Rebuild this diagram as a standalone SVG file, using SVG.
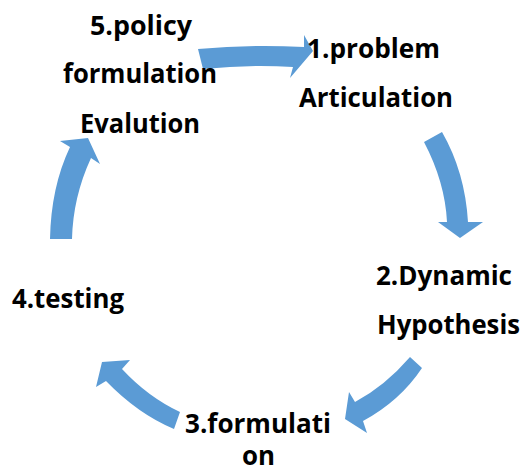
<svg xmlns="http://www.w3.org/2000/svg" width="528" height="470" viewBox="0 0 528 470">
<style>
.arr{fill:#5B9BD5;stroke:none}
.lbl{font-family:"Open Sans","Noto Sans","Liberation Sans",sans-serif;font-weight:bold;font-size:26px;fill:#000;text-anchor:middle}
</style>
<rect width="528" height="470" fill="#fff"/>
<g id="connectors">
<path class="arr" d="M198,49 Q250,44 304,47 L304,35 L313,51 L290,78 L293,67 Q250,64 203,69 Z"/>
<path class="arr" d="M424,142 L442,132 Q465,172 468,222 L483,222 L460,238 L438,222 L447,222 Q445,182 424,142 Z"/>
<path class="arr" d="M410,357 Q385,386 355,402 L349,392 L345,419 L367,433 L363,421 Q400,401 422,368 Z"/>
<path class="arr" d="M180,412 Q148,397 122,369 L130,360 L102,362 L96,387 L106,381 Q138,414 174,429 Z"/>
<path class="arr" d="M50,239 Q51,187 70,147 L60,141 L88,138 L100,164 L91,158 Q73,197 72,239 Z"/>
</g>
<g id="node5">
<text class="lbl" x="141" y="35" textLength="102" lengthAdjust="spacingAndGlyphs">5.policy</text>
<text class="lbl" x="140" y="83" textLength="154" lengthAdjust="spacingAndGlyphs">formulation</text>
<text class="lbl" x="140" y="133" textLength="120" lengthAdjust="spacingAndGlyphs">Evalution</text>
</g>
<g id="node1">
<text class="lbl" x="373.5" y="58" textLength="133" lengthAdjust="spacingAndGlyphs">1.problem</text>
<text class="lbl" x="376" y="107" textLength="154" lengthAdjust="spacingAndGlyphs">Articulation</text>
</g>
<g id="node2">
<text class="lbl" x="444" y="285" textLength="136" lengthAdjust="spacingAndGlyphs">2.Dynamic</text>
<text class="lbl" x="448.5" y="334" textLength="143" lengthAdjust="spacingAndGlyphs">Hypothesis</text>
</g>
<g id="node3">
<text class="lbl"><tspan x="258" y="433" textLength="146" lengthAdjust="spacingAndGlyphs">3.formulati</tspan><tspan x="258.5" y="465" textLength="33" lengthAdjust="spacingAndGlyphs">on</tspan></text>
</g>
<g id="node4">
<text class="lbl" x="68" y="308" textLength="112" lengthAdjust="spacingAndGlyphs">4.testing</text>
</g>
</svg>
